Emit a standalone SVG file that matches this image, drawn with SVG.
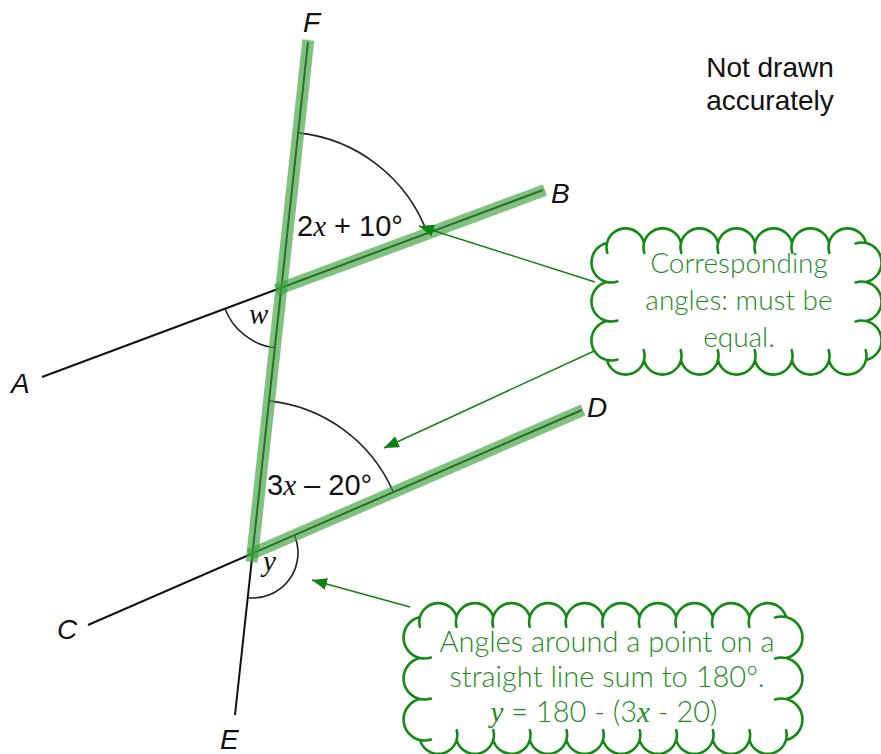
<svg xmlns="http://www.w3.org/2000/svg" width="881" height="754" viewBox="0 0 881 754">
<style>
.ln{stroke:#111;stroke-width:2;fill:none;stroke-linecap:butt}
.arc{stroke:#222;stroke-width:1.6;fill:none}
.hl{stroke:#3aa23a;stroke-opacity:0.65;stroke-width:12;fill:none;stroke-linecap:butt}
.lbl{font-family:"Liberation Sans",Arial,sans-serif;font-size:28px;font-style:italic;fill:#111}
.ang{font-family:"Liberation Sans",Arial,sans-serif;font-size:29px;fill:#111}
.var{font-family:"Liberation Serif","Times New Roman",serif;font-style:italic}
.note{font-family:"Liberation Sans",Arial,sans-serif;font-size:28px;fill:#111}
.cfill{fill:#fff;stroke:none}
.cline{fill:none;stroke:#138a13;stroke-width:2.6;stroke-linecap:round;stroke-linejoin:round}
.ctext{font-family:Lato,"Open Sans",sans-serif;font-weight:300;font-size:28px;fill:#1e8c1e;text-anchor:middle}
.ctext2{font-family:Lato,"Open Sans",sans-serif;font-weight:300;font-size:29px;fill:#1e8c1e;text-anchor:middle}
.arrow{stroke:#138013;stroke-width:1.5;fill:none}
</style>
<defs>
<marker id="ah" markerUnits="userSpaceOnUse" markerWidth="16" markerHeight="12" refX="15" refY="6" orient="auto">
<path d="M0,0 L15,6 L0,12 Z" fill="#138013"/>
</marker>
</defs>

<g id="lines">
<line id="line-FE" class="ln" x1="308" y1="42" x2="235" y2="715"/>
<line id="line-AB" class="ln" x1="42" y1="377" x2="543" y2="190"/>
<line id="line-CD" class="ln" x1="88" y1="625" x2="582" y2="410"/>
</g>

<g id="angle-arcs">
<path class="arc" d="M298.4,132.9 A155,155 0 0 1 427.3,233"/>
<path class="arc" d="M224.8,308.3 A61,61 0 0 0 275.6,347.7"/>
<path class="arc" d="M269.1,400.9 A153,153 0 0 1 393.3,492"/>
<path class="arc" d="M294.3,535.1 A45,45 0 0 1 248.3,597.7"/>
</g>

<g id="highlights">
<line class="hl" x1="308.3" y1="40" x2="251.6" y2="562"/>
<line class="hl" x1="276" y1="290" x2="545" y2="190"/>
<line class="hl" x1="249" y1="555" x2="583" y2="410"/>
</g>

<g id="labels">
<text class="lbl" x="303" y="32">F</text>
<text class="lbl" x="551" y="203">B</text>
<text class="lbl" x="11" y="393">A</text>
<text class="lbl" x="587" y="417">D</text>
<text class="lbl" x="57" y="639" font-style="normal">C</text>
<text class="lbl" x="220" y="749">E</text>
<text class="ang" x="297" y="236">2<tspan class="var">x</tspan> + 10°</text>
<text class="ang" x="267" y="495">3<tspan class="var">x</tspan> – 20°</text>
<text class="ang var" x="249" y="324" font-size="31">w</text>
<text class="ang var" x="263" y="571" font-size="31">y</text>
</g>

<g id="note">
<text class="note" x="770" y="77" text-anchor="middle">Not drawn</text>
<text class="note" x="770" y="110" text-anchor="middle">accurately</text>
</g>

<g id="connectors">
<line class="arrow" x1="595" y1="282" x2="419" y2="226" marker-end="url(#ah)"/>
<line class="arrow" x1="605" y1="346" x2="384" y2="448" marker-end="url(#ah)"/>
<line class="arrow" x1="410" y1="607" x2="312" y2="580" marker-end="url(#ah)"/>
</g>

<g id="cloud-corresponding">
<path class="cfill" d="M607,243 a19,19 0 0 1 37,0 a19,19 0 0 1 37,0 a19,19 0 0 1 37,0 a19,19 0 0 1 37,0 a19,19 0 0 1 37,0 a19,19 0 0 1 37,0 a19,19 0 0 1 37,0 a20,20 0 0 1 0,39 a20,20 0 0 1 0,39 a20,20 0 0 1 0,39 a19,19 0 0 1 -37,0 a19,19 0 0 1 -37,0 a19,19 0 0 1 -37,0 a19,19 0 0 1 -37,0 a19,19 0 0 1 -37,0 a19,19 0 0 1 -37,0 a19,19 0 0 1 -37,0 a20,20 0 0 1 0,-39 a20,20 0 0 1 0,-39 a20,20 0 0 1 0,-39 Z"/>
<path class="cline" d="M607,243 a19,19 0 0 1 37,0 a19,19 0 0 1 37,0 a19,19 0 0 1 37,0 a19,19 0 0 1 37,0 a19,19 0 0 1 37,0 a19,19 0 0 1 37,0 a19,19 0 0 1 37,0 a20,20 0 0 1 0,39 a20,20 0 0 1 0,39 a20,20 0 0 1 0,39 a19,19 0 0 1 -37,0 a19,19 0 0 1 -37,0 a19,19 0 0 1 -37,0 a19,19 0 0 1 -37,0 a19,19 0 0 1 -37,0 a19,19 0 0 1 -37,0 a19,19 0 0 1 -37,0 a20,20 0 0 1 0,-39 a20,20 0 0 1 0,-39 a20,20 0 0 1 0,-39 Z
M607.3,252.8 A19,19 0 0 1 607,243 M644.3,252.8 A19,19 0 0 1 644,243 M681.3,252.8 A19,19 0 0 1 681,243 M718.3,252.8 A19,19 0 0 1 718,243 M755.3,252.8 A19,19 0 0 1 755,243 M792.3,252.8 A19,19 0 0 1 792,243 M829.3,252.8 A19,19 0 0 1 829,243
M855.65,243.39 A20,20 0 0 1 866,243 M855.65,282.39 A20,20 0 0 1 866,282 M855.65,321.39 A20,20 0 0 1 866,321
M865.7,350.2 A19,19 0 0 1 866,360 M828.7,350.2 A19,19 0 0 1 829,360 M791.7,350.2 A19,19 0 0 1 792,360 M754.7,350.2 A19,19 0 0 1 755,360 M717.7,350.2 A19,19 0 0 1 718,360 M680.7,350.2 A19,19 0 0 1 681,360 M643.7,350.2 A19,19 0 0 1 644,360
M617.35,359.61 A20,20 0 0 1 607,360 M617.35,320.61 A20,20 0 0 1 607,321 M617.35,281.61 A20,20 0 0 1 607,282"/>
<text class="ctext" x="739" y="273">Corresponding</text>
<text class="ctext" x="739" y="310">angles: must be</text>
<text class="ctext" x="739" y="347">equal.</text>
</g>

<g id="cloud-around-point">
<path class="cfill" d="M420,617 a19,19 0 0 1 36.6,0 a19,19 0 0 1 36.6,0 a19,19 0 0 1 36.6,0 a19,19 0 0 1 36.6,0 a19,19 0 0 1 36.6,0 a19,19 0 0 1 36.6,0 a19,19 0 0 1 36.6,0 a19,19 0 0 1 36.6,0 a19,19 0 0 1 36.6,0 a19,19 0 0 1 36.6,0 a21,21 0 0 1 0,41 a21,21 0 0 1 0,41 a21,21 0 0 1 0,41 a19,19 0 0 1 -36.6,0 a19,19 0 0 1 -36.6,0 a19,19 0 0 1 -36.6,0 a19,19 0 0 1 -36.6,0 a19,19 0 0 1 -36.6,0 a19,19 0 0 1 -36.6,0 a19,19 0 0 1 -36.6,0 a19,19 0 0 1 -36.6,0 a19,19 0 0 1 -36.6,0 a19,19 0 0 1 -36.6,0 a21,21 0 0 1 0,-41 a21,21 0 0 1 0,-41 a21,21 0 0 1 0,-41 Z"/>
<path class="cline" d="M420,617 a19,19 0 0 1 36.6,0 a19,19 0 0 1 36.6,0 a19,19 0 0 1 36.6,0 a19,19 0 0 1 36.6,0 a19,19 0 0 1 36.6,0 a19,19 0 0 1 36.6,0 a19,19 0 0 1 36.6,0 a19,19 0 0 1 36.6,0 a19,19 0 0 1 36.6,0 a19,19 0 0 1 36.6,0 a21,21 0 0 1 0,41 a21,21 0 0 1 0,41 a21,21 0 0 1 0,41 a19,19 0 0 1 -36.6,0 a19,19 0 0 1 -36.6,0 a19,19 0 0 1 -36.6,0 a19,19 0 0 1 -36.6,0 a19,19 0 0 1 -36.6,0 a19,19 0 0 1 -36.6,0 a19,19 0 0 1 -36.6,0 a19,19 0 0 1 -36.6,0 a19,19 0 0 1 -36.6,0 a19,19 0 0 1 -36.6,0 a21,21 0 0 1 0,-41 a21,21 0 0 1 0,-41 a21,21 0 0 1 0,-41 Z
M419.9,626.8 A19,19 0 0 1 420,617 M456.5,626.8 A19,19 0 0 1 456.6,617 M493.1,626.8 A19,19 0 0 1 493.2,617 M529.7,626.8 A19,19 0 0 1 529.8,617 M566.3,626.8 A19,19 0 0 1 566.4,617 M602.9,626.8 A19,19 0 0 1 603,617 M639.5,626.8 A19,19 0 0 1 639.6,617 M676.1,626.8 A19,19 0 0 1 676.2,617 M712.7,626.8 A19,19 0 0 1 712.8,617 M749.3,626.8 A19,19 0 0 1 749.4,617
M775.14,617.47 A21,21 0 0 1 786,617 M775.14,658.47 A21,21 0 0 1 786,658 M775.14,699.47 A21,21 0 0 1 786,699
M786.1,730.2 A19,19 0 0 1 786,740 M749.5,730.2 A19,19 0 0 1 749.4,740 M712.9,730.2 A19,19 0 0 1 712.8,740 M676.3,730.2 A19,19 0 0 1 676.2,740 M639.7,730.2 A19,19 0 0 1 639.6,740 M603.1,730.2 A19,19 0 0 1 603,740 M566.5,730.2 A19,19 0 0 1 566.4,740 M529.9,730.2 A19,19 0 0 1 529.8,740 M493.3,730.2 A19,19 0 0 1 493.2,740 M456.7,730.2 A19,19 0 0 1 456.6,740
M430.86,739.53 A21,21 0 0 1 420,740 M430.86,698.53 A21,21 0 0 1 420,699 M430.86,657.53 A21,21 0 0 1 420,658"/>
<text class="ctext2" x="607" y="652">Angles around a point on a</text>
<text class="ctext2" x="607" y="687">straight line sum to 180º.</text>
<text class="ctext2" x="604" y="722"><tspan class="var">y</tspan> = 180 - (3<tspan class="var">x</tspan> - 20)</text>
</g>
</svg>
